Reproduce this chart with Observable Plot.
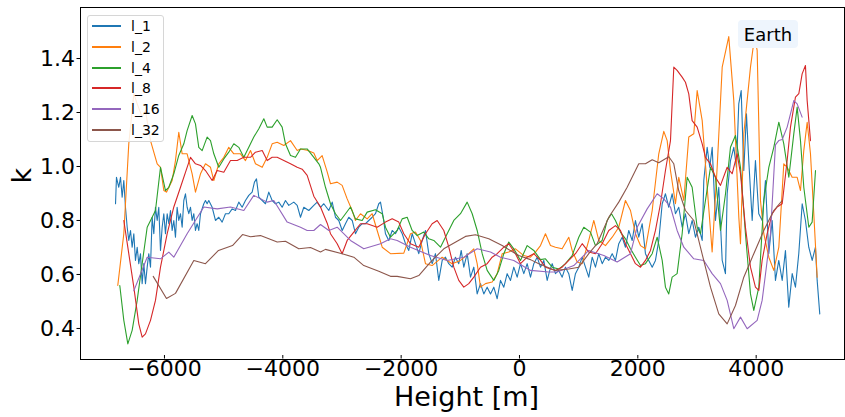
<!DOCTYPE html>
<html>
<head>
<meta charset="utf-8">
<script src="https://cdn.jsdelivr.net/npm/d3@7"></script>
<script src="https://cdn.jsdelivr.net/npm/@observablehq/plot@0.6"></script>
<style>
  body { margin: 0; background: white; font-family: "DejaVu Sans", sans-serif; }
  #wrap { position: relative; width: 845px; height: 417px; }
  #legend { position: absolute; left: 87px; top: 15px; width: 77px; height: 127px; border: 1px solid #d6d6d6; border-radius: 3px; background: rgba(255,255,255,0.85); box-sizing: border-box; }
  .row { position: absolute; left: 0; height: 20px; display: flex; align-items: center; }
  .sw { width: 29px; margin-left: 4px; height: 2px; }
  .lb { margin-left: 10px; font-size: 14px; color: #000; }
  #earth { position: absolute; left: 738px; top: 20px; width: 60px; height: 28px; border-radius: 4px; background: #eef5fd; font-size: 18px; display: flex; align-items: center; justify-content: center; color: #000; }
</style>
</head>
<body>
<div id="wrap"></div>
<script>
const seriesNames = ["l_1", "l_2", "l_4", "l_8", "l_16", "l_32"];
const seriesColors = ["#1f77b4", "#ff7f0e", "#2ca02c", "#d62728", "#9467bd", "#8c564b"];
const xTicks = [-6000, -4000, -2000, 0, 2000, 4000];
const yTicks = [0.4, 0.6, 0.8, 1.0, 1.2, 1.4];
const annotation = "Earth";

const l_1 = [[-6827,0.862],[-6811,0.96],[-6772,0.923],[-6743,0.96],[-6715,0.886],[-6687,0.948],[-6659,0.849],[-6630,0.775],[-6603,0.726],[-6574,0.763],[-6546,0.701],[-6518,0.751],[-6490,0.652],[-6461,0.701],[-6434,0.64],[-6405,0.677],[-6377,0.566],[-6349,0.64],[-6321,0.566],[-6292,0.627],[-6265,0.677],[-6236,0.627],[-6208,0.812],[-6180,0.751],[-6152,0.849],[-6123,0.80],[-6096,0.849],[-6067,0.689],[-6039,0.775],[-6011,0.825],[-5983,0.751],[-5954,0.825],[-5926,0.788],[-5898,0.837],[-5870,0.763],[-5842,0.80],[-5814,0.738],[-5786,0.849],[-5758,0.80],[-5729,0.825],[-5701,0.775],[-5673,0.874],[-5645,0.899],[-5617,0.849],[-5589,0.825],[-5560,0.849],[-5532,0.80],[-5504,0.825],[-5476,0.763],[-5448,0.788],[-5420,0.763],[-5391,0.825],[-5335,0.862],[-5307,0.874],[-5279,0.862],[-5251,0.874],[-5194,0.849],[-5138,0.80],[-5082,0.812],[-5025,0.794],[-4969,0.825],[-4913,0.825],[-4856,0.843],[-4800,0.837],[-4744,0.868],[-4687,0.849],[-4631,0.874],[-4575,0.893],[-4518,0.905],[-4479,0.942],[-4445,0.954],[-4405,0.886],[-4348,0.874],[-4293,0.862],[-4237,0.905],[-4180,0.874],[-4124,0.862],[-4068,0.868],[-4011,0.849],[-3955,0.874],[-3899,0.856],[-3814,0.868],[-3757,0.856],[-3701,0.812],[-3645,0.849],[-3561,0.837],[-3476,0.856],[-3419,0.868],[-3363,0.849],[-3307,0.862],[-3223,0.837],[-3165,0.868],[-3110,0.812],[-3054,0.80],[-2996,0.763],[-2941,0.788],[-2885,0.812],[-2827,0.80],[-2772,0.751],[-2716,0.775],[-2658,0.788],[-2603,0.788],[-2547,0.80],[-2489,0.812],[-2434,0.825],[-2378,0.862],[-2349,0.868],[-2303,0.812],[-2265,0.751],[-2209,0.726],[-2151,0.763],[-2096,0.751],[-2040,0.775],[-1982,0.751],[-1927,0.714],[-1871,0.689],[-1813,0.751],[-1758,0.714],[-1702,0.677],[-1644,0.726],[-1589,0.763],[-1533,0.677],[-1475,0.64],[-1420,0.677],[-1364,0.578],[-1306,0.652],[-1251,0.664],[-1195,0.64],[-1137,0.627],[-1082,0.664],[-1026,0.64],[-985,0.689],[-941,0.627],[-884,0.677],[-828,0.59],[-772,0.627],[-715,0.528],[-659,0.566],[-603,0.528],[-546,0.553],[-490,0.528],[-434,0.553],[-377,0.51],[-321,0.578],[-265,0.553],[-208,0.603],[-152,0.578],[-96,0.627],[-39,0.59],[17,0.64],[73,0.603],[130,0.64],[186,0.59],[242,0.64],[299,0.664],[355,0.627],[411,0.652],[468,0.578],[512,0.615],[553,0.64],[608,0.603],[664,0.615],[722,0.59],[777,0.627],[833,0.603],[891,0.541],[946,0.603],[1002,0.627],[1060,0.664],[1115,0.627],[1171,0.59],[1229,0.664],[1284,0.627],[1340,0.677],[1398,0.64],[1453,0.664],[1509,0.652],[1567,0.677],[1622,0.652],[1678,0.714],[1736,0.738],[1791,0.701],[1847,0.763],[1905,0.726],[1960,0.80],[2016,0.738],[2074,0.788],[2129,0.677],[2185,0.652],[2243,0.627],[2298,0.652],[2354,0.726],[2412,0.862],[2467,0.899],[2523,0.849],[2581,0.899],[2636,0.825],[2692,0.849],[2750,0.775],[2805,0.825],[2861,0.751],[2919,0.80],[2974,0.738],[3030,0.775],[3088,0.726],[3115,0.948],[3172,1.071],[3216,0.997],[3257,1.071],[3312,0.80],[3368,0.923],[3426,0.652],[3481,0.603],[3510,0.899],[3566,1.022],[3622,1.071],[3667,0.997],[3706,1.232],[3747,1.281],[3791,0.985],[3836,1.195],[3875,1.022],[3933,0.80],[3988,1.022],[4044,0.825],[4102,0.80],[4157,0.948],[4213,0.677],[4271,0.80],[4326,0.578],[4382,0.652],[4440,0.578],[4495,0.689],[4551,0.479],[4609,0.603],[4664,0.553],[4720,0.677],[4778,0.862],[4833,0.80],[4889,0.701],[4947,0.652],[5002,0.701],[5031,0.578],[5075,0.454]];

const l_2 = [[-6789,0.559],[-6687,0.751],[-6603,1.084],[-6518,1.27],[-6461,1.232],[-6377,1.183],[-6321,1.207],[-6236,1.096],[-6123,1.01],[-6067,0.997],[-6011,0.911],[-5966,0.905],[-5870,0.948],[-5814,1.022],[-5758,1.127],[-5701,1.047],[-5617,1.047],[-5532,0.973],[-5476,0.905],[-5391,0.973],[-5307,1.01],[-5222,0.997],[-5166,0.948],[-5082,1.01],[-4997,1.034],[-4913,1.071],[-4828,1.047],[-4715,1.047],[-4631,1.022],[-4546,1.059],[-4462,1.01],[-4348,0.997],[-4264,1.034],[-4180,1.084],[-4095,1.09],[-3983,1.078],[-3870,1.096],[-3757,1.059],[-3701,1.065],[-3588,1.06],[-3476,1.05],[-3419,1.022],[-3335,1.04],[-3250,0.98],[-3194,0.936],[-3081,0.942],[-2997,0.93],[-2912,0.88],[-2828,0.837],[-2772,0.80],[-2687,0.825],[-2574,0.806],[-2490,0.825],[-2405,0.763],[-2320,0.701],[-2180,0.677],[-1955,0.679],[-1842,0.751],[-1758,0.757],[-1673,0.726],[-1589,0.64],[-1476,0.633],[-1307,0.664],[-1138,0.64],[-997,0.652],[-857,0.677],[-772,0.695],[-715,0.64],[-659,0.553],[-575,0.566],[-462,0.572],[-377,0.603],[-292,0.677],[-181,0.683],[-68,0.695],[73,0.67],[186,0.664],[270,0.683],[355,0.707],[439,0.751],[524,0.707],[608,0.701],[721,0.695],[833,0.738],[890,0.689],[975,0.646],[1060,0.64],[1171,0.726],[1256,0.80],[1340,0.726],[1453,0.707],[1567,0.738],[1678,0.775],[1791,0.874],[1876,0.837],[1960,0.751],[2045,0.707],[2129,0.695],[2243,0.837],[2354,1.047],[2439,1.13],[2496,1.096],[2552,0.985],[2636,0.862],[2692,0.96],[2777,0.874],[2861,1.109],[2946,1.121],[3003,1.281],[3088,1.17],[3172,0.923],[3256,0.683],[3341,0.997],[3426,1.368],[3537,1.481],[3622,1.244],[3707,0.812],[3735,0.714],[3791,1.121],[3904,1.368],[3972,1.478],[4017,1.43],[4073,0.874],[4129,0.751],[4214,0.664],[4298,0.615],[4383,0.701],[4467,1.01],[4524,0.997],[4608,0.96],[4693,0.96],[4749,0.911],[4805,1.059],[4862,1.164],[4918,1.047],[4974,0.825],[5031,0.59]];

const l_4 = [[-6755,0.559],[-6687,0.43],[-6619,0.343],[-6546,0.393],[-6461,0.504],[-6377,0.64],[-6292,0.775],[-6208,0.812],[-6152,0.837],[-6067,0.997],[-5983,0.911],[-5926,0.923],[-5842,0.973],[-5758,1.041],[-5673,1.084],[-5617,1.133],[-5532,1.189],[-5476,1.158],[-5420,1.071],[-5363,1.059],[-5279,1.109],[-5222,1.096],[-5166,1.047],[-5082,0.997],[-4997,1.028],[-4913,1.053],[-4828,1.084],[-4744,1.071],[-4659,1.034],[-4575,1.071],[-4490,1.109],[-4405,1.14],[-4321,1.177],[-4264,1.146],[-4180,1.146],[-4095,1.173],[-4011,1.146],[-3955,1.084],[-3870,1.041],[-3786,1.034],[-3701,1.065],[-3588,1.065],[-3476,1.034],[-3391,1.01],[-3363,0.997],[-3279,0.923],[-3194,0.862],[-3110,0.825],[-3025,0.80],[-2940,0.825],[-2856,0.85],[-2772,0.806],[-2659,0.80],[-2574,0.831],[-2434,0.84],[-2320,0.825],[-2265,0.775],[-2180,0.738],[-2067,0.763],[-1983,0.806],[-1898,0.812],[-1814,0.763],[-1729,0.744],[-1617,0.757],[-1532,0.732],[-1448,0.726],[-1335,0.701],[-1222,0.751],[-1110,0.80],[-997,0.825],[-884,0.868],[-799,0.825],[-715,0.763],[-630,0.677],[-546,0.615],[-434,0.578],[-350,0.615],[-265,0.677],[-181,0.72],[-96,0.695],[17,0.652],[130,0.707],[242,0.689],[355,0.655],[439,0.658],[552,0.627],[664,0.62],[777,0.64],[890,0.67],[1002,0.738],[1087,0.775],[1200,0.757],[1284,0.707],[1397,0.726],[1482,0.80],[1555,0.825],[1622,0.80],[1707,0.757],[1791,0.732],[1876,0.695],[1960,0.664],[2045,0.633],[2129,0.64],[2243,0.677],[2327,0.738],[2412,0.652],[2467,0.553],[2523,0.528],[2580,0.59],[2664,0.603],[2749,0.751],[2834,0.96],[2918,0.923],[3003,0.775],[3059,0.751],[3143,0.874],[3228,0.997],[3312,0.96],[3397,0.763],[3482,0.899],[3566,1.071],[3650,1.115],[3735,0.997],[3819,0.751],[3904,0.528],[3960,0.467],[4045,0.553],[4129,0.874],[4214,0.997],[4298,1.071],[4383,1.164],[4467,1.084],[4552,0.96],[4636,1.121],[4693,1.22],[4749,1.096],[4805,0.923],[4890,0.775],[4946,0.794],[5003,0.985]];

const l_8 = [[-6687,0.80],[-6603,0.677],[-6518,0.553],[-6434,0.417],[-6377,0.368],[-6321,0.38],[-6236,0.43],[-6152,0.504],[-6067,0.627],[-5954,0.751],[-5842,0.85],[-5729,0.923],[-5617,0.997],[-5560,1.034],[-5476,1.01],[-5391,1.004],[-5307,0.985],[-5194,0.948],[-5109,0.985],[-4997,0.979],[-4884,1.022],[-4771,1.022],[-4659,1.034],[-4546,1.034],[-4462,1.053],[-4348,1.059],[-4264,1.022],[-4180,1.034],[-4095,1.034],[-3983,1.022],[-3870,1.01],[-3757,0.997],[-3673,0.99],[-3588,0.967],[-3476,0.89],[-3363,0.85],[-3250,0.79],[-3194,0.751],[-3081,0.714],[-2997,0.677],[-2912,0.726],[-2800,0.757],[-2687,0.788],[-2574,0.788],[-2405,0.775],[-2265,0.794],[-2151,0.806],[-2040,0.794],[-1955,0.751],[-1842,0.714],[-1702,0.701],[-1589,0.751],[-1476,0.788],[-1391,0.80],[-1279,0.763],[-1194,0.701],[-1110,0.627],[-1026,0.578],[-941,0.553],[-857,0.566],[-772,0.59],[-659,0.627],[-546,0.64],[-462,0.664],[-377,0.677],[-265,0.701],[-181,0.714],[-68,0.677],[17,0.64],[130,0.664],[242,0.677],[355,0.652],[439,0.627],[608,0.615],[721,0.627],[833,0.652],[946,0.677],[1060,0.714],[1171,0.683],[1284,0.677],[1397,0.714],[1509,0.763],[1622,0.781],[1707,0.763],[1791,0.714],[1876,0.677],[1960,0.64],[2045,0.627],[2129,0.652],[2214,0.689],[2298,0.763],[2383,0.862],[2467,0.985],[2552,1.096],[2608,1.368],[2664,1.356],[2749,1.331],[2805,1.312],[2861,1.269],[2918,1.17],[3003,1.146],[3088,1.084],[3143,1.034],[3228,1.01],[3312,0.96],[3397,0.93],[3510,0.997],[3594,0.973],[3679,1.047],[3735,0.973],[3819,0.775],[3904,0.627],[3988,0.553],[4045,0.541],[4101,0.652],[4186,0.751],[4270,0.825],[4355,0.85],[4440,0.862],[4524,1.022],[4580,1.146],[4664,1.257],[4721,1.27],[4777,1.343],[4833,1.374],[4862,1.244],[4918,1.096]];

const l_16 = [[-6517,0.54],[-6292,0.664],[-6067,0.658],[-5926,0.683],[-5842,0.664],[-5617,0.751],[-5335,0.85],[-5109,0.843],[-4884,0.85],[-4659,0.837],[-4490,0.893],[-4264,0.868],[-4152,0.874],[-3926,0.794],[-3701,0.775],[-3588,0.763],[-3476,0.763],[-3363,0.785],[-3222,0.763],[-3081,0.775],[-2856,0.726],[-2631,0.695],[-2349,0.714],[-2180,0.732],[-2067,0.726],[-1842,0.701],[-1504,0.67],[-1222,0.652],[-941,0.664],[-715,0.695],[-490,0.683],[-321,0.664],[-96,0.652],[186,0.615],[495,0.609],[637,0.609],[918,0.633],[1171,0.689],[1425,0.67],[1651,0.646],[1876,0.677],[1989,0.775],[2158,0.843],[2327,0.899],[2439,0.88],[2552,0.85],[2664,0.763],[2777,0.701],[2946,0.658],[3115,0.652],[3256,0.603],[3397,0.566],[3510,0.504],[3622,0.399],[3735,0.442],[3848,0.399],[4017,0.43],[4101,0.504],[4157,0.60],[4242,0.751],[4326,1.08],[4382,1.096],[4440,1.10],[4524,1.146],[4636,1.244],[4693,1.232],[4777,1.183]];

const l_32 = [[-6190,0.593],[-5966,0.511],[-5814,0.53],[-5504,0.652],[-5307,0.64],[-5087,0.689],[-4850,0.707],[-4681,0.748],[-4546,0.74],[-4377,0.744],[-4095,0.72],[-3955,0.723],[-3730,0.695],[-3532,0.70],[-3363,0.683],[-3279,0.693],[-2997,0.677],[-2800,0.664],[-2631,0.633],[-2378,0.612],[-2180,0.593],[-2067,0.593],[-1842,0.584],[-1702,0.596],[-1504,0.646],[-1279,0.695],[-913,0.741],[-744,0.747],[-519,0.732],[-292,0.707],[-12,0.67],[186,0.655],[326,0.64],[608,0.615],[833,0.62],[1002,0.627],[1171,0.677],[1313,0.714],[1509,0.812],[1678,0.868],[1820,0.923],[2016,1.01],[2129,1.01],[2243,1.025],[2354,1.014],[2523,1.036],[2608,1.01],[2692,0.91],[2805,0.837],[2946,0.80],[3059,0.70],[3228,0.553],[3368,0.454],[3510,0.417],[3650,0.485],[3791,0.59],[3960,0.677],[4129,0.763],[4298,0.837],[4440,0.874]];

const allSeries = [l_1, l_2, l_4, l_8, l_16, l_32];

const minusFmt = d => d < 0 ? "\u2212" + Math.abs(d) : String(d);

const chart = Plot.plot({
  width: 845,
  height: 417,
  marginLeft: 80,
  marginRight: 1,
  marginTop: 7,
  marginBottom: 58,
  style: { fontFamily: "DejaVu Sans, sans-serif", color: "black", background: "white", overflow: "visible" },
  x: { domain: [-7419, 5493] },
  y: { domain: [0.285, 1.589] },
  marks: [
    ...allSeries.map((s, i) => Plot.line(s, { x: d => d[0], y: d => d[1], stroke: seriesColors[i], strokeWidth: 1.1 })),
    Plot.frame({ stroke: "black", strokeWidth: 1 }),
    Plot.axisX({ ticks: xTicks, tickSize: 3.5, tickPadding: 1, fontSize: 22, tickFormat: minusFmt, label: null, dy: -4 }),
    Plot.axisY({ ticks: yTicks, tickSize: 3.5, tickPadding: 2, fontSize: 22, tickFormat: d3.format(".1f"), label: null }),
    Plot.text(["Height [m]"], { text: d => d, frameAnchor: "bottom", dy: 46, dx: 4, fontSize: 27 }),
    Plot.text(["k"], { text: d => d, frameAnchor: "left", dx: -58, rotate: -90, fontSize: 27 })
  ]
});

const wrap = document.getElementById("wrap");
wrap.appendChild(chart);

const legend = document.createElement("div");
legend.id = "legend";
seriesNames.forEach((name, i) => {
  const row = document.createElement("div");
  row.className = "row";
  row.style.top = Math.round(i * 20.8) + "px";
  const sw = document.createElement("div");
  sw.className = "sw";
  sw.style.background = seriesColors[i];
  const lb = document.createElement("span");
  lb.className = "lb";
  lb.textContent = name;
  row.appendChild(sw);
  row.appendChild(lb);
  legend.appendChild(row);
});
wrap.appendChild(legend);

const earth = document.createElement("div");
earth.id = "earth";
earth.textContent = annotation;
wrap.appendChild(earth);
</script>
</body>
</html>
